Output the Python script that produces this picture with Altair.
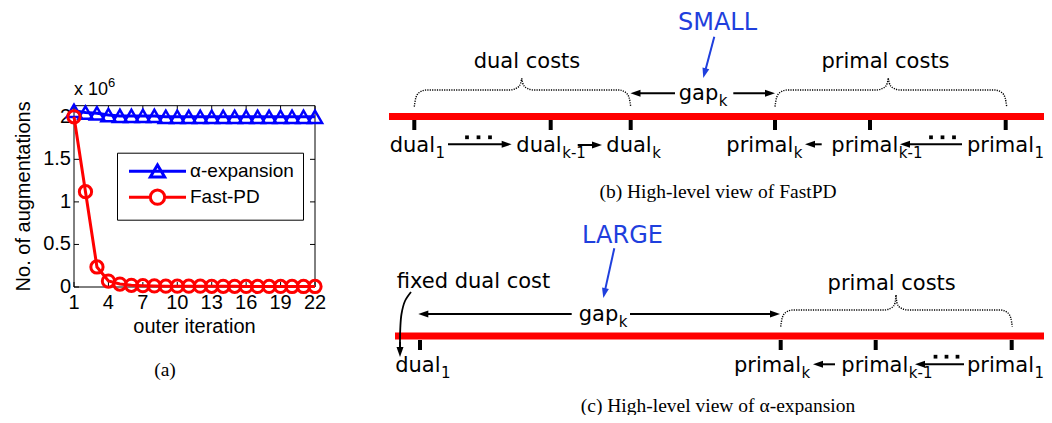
import math
import altair as alt
import pandas as pd

# ---------------- panel (a): augmentations per outer iteration (x 10^6) ----------------
iterations = list(range(1, 23))
alpha_expansion = [2.07, 2.05, 2.04, 2.02, 2.01, 2.01, 2.01, 2.01, 2.0, 2.0, 2.0,
                   2.0, 2.0, 2.0, 2.0, 2.0, 2.0, 2.0, 2.0, 2.0, 2.0, 2.0]
fast_pd = [2.0, 1.12, 0.235, 0.07, 0.035, 0.02, 0.015, 0.012, 0.01, 0.01, 0.009,
           0.009, 0.008, 0.008, 0.008, 0.007, 0.007, 0.007, 0.007, 0.006, 0.006, 0.006]
series_names = ["α-expansion", "Fast-PD"]
series_colors = ["#0000ff", "#ff0000"]
x_tick_values = [1, 4, 7, 10, 13, 16, 19, 22]
y_tick_values = [0, 0.5, 1, 1.5, 2]
y_max = 2.13
x_title = "outer iteration"
y_title = "No. of augmentations"

# ---------------- panels (b) and (c): schematic (page pixel coordinates) ----------------
bar_x0 = [389, 395]
bar_x1 = [1044, 1044]
bar_y = [116.5, 336]

tick_x = [414.3, 550.7, 630.7, 775, 870, 1005.7, 420, 780.7, 875.7, 1011.7]
tick_y0 = [120, 120, 120, 120, 120, 120, 340, 340, 340, 340]
tick_y1 = [130, 130, 130, 130, 130, 130, 350, 350, 350, 350]

brace_x0 = [414.3, 775, 780.7]
brace_x1 = [630.7, 1006.7, 1012.3]
brace_xm = [521.7, 888.3, 896]
brace_y_end = [106.7, 106.7, 326.7]
brace_y_line = [90, 90, 310]
brace_y_tip = [78.3, 78.3, 295]

blue_words = ["SMALL", "LARGE"]
blue_x = [717.5, 622.5]
blue_y = [30, 243.3]

black_words = ["dual costs", "primal costs", "primal costs"]
black_x = [527, 885.5, 891.7]
black_y = [68.3, 68.3, 290]
left_words = ["fixed dual cost"]
left_x = [396.7]
left_y = [288.3]

lab_base = ["gap", "dual", "dual", "dual", "primal", "primal", "primal",
            "gap", "dual", "primal", "primal", "primal"]
lab_sub = ["k", "1", "k-1", "k", "k", "k-1", "1",
           "k", "1", "k", "k-1", "1"]
lab_split = [718.3, 435, 561.7, 651.7, 793.3, 898.3, 1034,
             618.3, 440.5, 801, 908.3, 1034]
lab_y = [100, 151.7, 151.7, 151.7, 151.7, 151.7, 151.7,
         320.7, 371.7, 371.7, 371.7, 371.7]

arrow_tail_x = [714.3, 614.3, 675, 733.3, 448, 577.7, 821.7, 962, 571.7, 630, 835, 964, 400]
arrow_tail_y = [36.7, 248.3, 93.3, 93.3, 144.3, 145, 144.3, 144.3, 314, 314, 364.3, 364.3, 342]
arrow_tip_x = [703.3, 603.3, 630.5, 775, 511.7, 602, 805, 900, 418.3, 780, 813, 915, 400]
arrow_tip_y = [78, 298, 93.3, 93.3, 144.3, 145, 144.3, 144.3, 314, 314, 364.3, 364.3, 357]
arrow_blue = [True, True, False, False, False, False, False, False, False, False, False, False, False]

curve_x = [411, 405, 401.5, 400.3, 400, 400]
curve_y = [292, 301, 314, 328, 340, 348]

dots_x = [467, 478.5, 490, 931, 942.5, 954, 935.5, 946.5, 957.5]
dots_y = [137.3, 137.3, 137.3, 137.3, 137.3, 137.3, 356.7, 356.7, 356.7]

cap_text = ["(a)", "(b) High-level view of FastPD", "(c) High-level view of α-expansion"]
cap_x = [165, 718, 718]
cap_y = [376, 198, 412]

# ---------------- styling ----------------
MF = "Liberation Sans"
CF = "DejaVu Sans"
SF = "Liberation Serif"
RED = "#ff0000"
TXT_BLUE = "#1f3fdd"

# ================= panel (a) =================
xs = alt.Scale(domain=[1, 22], range=[66, 307], nice=False, zero=False)
ys = alt.Scale(domain=[0, y_max], range=[279, 97.7], nice=False, zero=False)

df_a = pd.DataFrame({"iter": iterations, "value": alpha_expansion})
df_f = pd.DataFrame({"iter": iterations, "value": fast_pd})
xq = alt.X("iter:Q", scale=xs, axis=None)
yq = alt.Y("value:Q", scale=ys, axis=None)


def XD(v):
    return alt.XDatum(v, scale=xs, axis=None)


def YD(v):
    return alt.YDatum(v, scale=ys, axis=None)


one = pd.DataFrame({"k": [0]})
frame = alt.Chart(one).mark_rect(filled=False, color="black", strokeWidth=1).encode(
    x=XD(1), x2=alt.X2Datum(22), y=YD(0), y2=alt.Y2Datum(y_max))

df_yt = pd.DataFrame({"value": y_tick_values})
df_xt = pd.DataFrame({"iter": x_tick_values})
tk = dict(color="black", thickness=1, size=5, opacity=1)
ytick_l = alt.Chart(df_yt).mark_tick(orient="horizontal", xOffset=2.5, **tk).encode(x=XD(1), y=yq)
ytick_r = alt.Chart(df_yt).mark_tick(orient="horizontal", xOffset=-2.5, **tk).encode(x=XD(22), y=yq)
xtick_b = alt.Chart(df_xt).mark_tick(orient="vertical", yOffset=-2.5, **tk).encode(x=xq, y=YD(0))
xtick_t = alt.Chart(df_xt).mark_tick(orient="vertical", yOffset=2.5, **tk).encode(x=xq, y=YD(y_max))

# tick labels and axis titles (drawn through the same scales)
ylab = alt.Chart(df_yt).mark_text(align="right", baseline="middle", font=MF, fontSize=20,
                                  color="black", dx=-3).encode(
    x=XD(1), y=yq, text=alt.Text("value:Q", format="~g"))
xlab = alt.Chart(df_xt).mark_text(align="center", baseline="middle", font=MF, fontSize=20,
                                  color="black", dy=16).encode(
    x=xq, y=YD(0), text=alt.Text("iter:Q", format="d"))
ytit = alt.Chart(one).mark_text(text=y_title, angle=270, align="center", baseline="middle",
                                font=MF, fontSize=20, color="black", dy=-50).encode(
    x=XD(1), y=YD(y_max / 2))
xtit = alt.Chart(one).mark_text(text=x_title, align="center", baseline="alphabetic",
                                font=MF, fontSize=20, color="black", dy=46).encode(
    x=XD(11.5), y=YD(0))

line_a = alt.Chart(df_a).mark_line(color=series_colors[0], strokeWidth=3).encode(x=xq, y=yq)
pts_a = alt.Chart(df_a).mark_point(shape="triangle-up", filled=False, color=series_colors[0],
                                   strokeWidth=2.5, size=200, opacity=1).encode(x=xq, y=yq)
line_f = alt.Chart(df_f).mark_line(color=series_colors[1], strokeWidth=3).encode(x=xq, y=yq)
pts_f = alt.Chart(df_f).mark_point(shape="circle", filled=False, color=series_colors[1],
                                   strokeWidth=3, size=150, opacity=1).encode(x=xq, y=yq)

exp_txt = alt.Chart(one).mark_text(text="x 10", align="left", baseline="alphabetic",
                                   font=MF, fontSize=18, dy=-10.7, color="black").encode(
    x=XD(1), y=YD(y_max))
exp_sup = alt.Chart(one).mark_text(text="6", align="left", baseline="alphabetic",
                                   font=MF, fontSize=13, dx=34, dy=-19, color="black").encode(
    x=XD(1), y=YD(y_max))

# legend built from a hidden (clipped) layer; custom symbols = line with marker
PATH_A = "M-1,0L7.77,0M2.285,0.9L4.485,0.9L3.385,-0.95Z"
PATH_F = ("M-1,0L2.285,0M4.485,0L7.77,0M4.485,0A1.1,1.1,0,1,1,2.285,0"
          "A1.1,1.1,0,1,1,4.485,0")
leg = alt.Legend(orient="none", legendX=109, legendY=144.7, title=None,
                 padding=9, strokeColor="black", fillColor="white", cornerRadius=0,
                 symbolSize=169, symbolStrokeWidth=3, labelFont=MF, labelFontSize=19,
                 labelColor="black", labelOffset=45, rowPadding=0, labelLimit=0)
df_leg = pd.DataFrame({"iter": [100, 100], "value": [1, 1], "series": series_names})
legend_layer = alt.Chart(df_leg).mark_point(filled=False, strokeWidth=3, opacity=1,
                                            size=169, clip=True).encode(
    x=xq, y=yq,
    color=alt.Color("series:N", scale=alt.Scale(domain=series_names, range=series_colors), legend=leg),
    shape=alt.Shape("series:N", scale=alt.Scale(domain=series_names, range=[PATH_A, PATH_F]), legend=leg))

panel_a = alt.layer(frame, ytick_l, ytick_r, xtick_b, xtick_t, ylab, xlab, ytit, xtit,
                    line_a, pts_a, line_f, pts_f, exp_txt, exp_sup, legend_layer)

# ================= panels (b), (c) =================
dxs = alt.Scale(domain=[8, 1044], range=[0, 1036], nice=False, zero=False)
dys = alt.Scale(domain=[8, 415], range=[0, 407], nice=False, zero=False)


def DX(f):
    return alt.X(f, type="quantitative", scale=dxs, axis=None)


def DY(f):
    return alt.Y(f, type="quantitative", scale=dys, axis=None)


df_bar = pd.DataFrame({"x0": bar_x0, "x1": bar_x1, "y": bar_y})
bars = alt.Chart(df_bar).mark_rule(color=RED, strokeWidth=7).encode(
    x=DX("x0"), x2="x1", y=DY("y"))

df_tick = pd.DataFrame({"x": tick_x, "y0": tick_y0, "y1": tick_y1})
ticks = alt.Chart(df_tick).mark_rule(color="black", strokeWidth=4).encode(
    x=DX("x"), y=DY("y0"), y2="y1")

rows = []
for b in range(len(brace_x0)):
    x0, x1, xm = brace_x0[b], brace_x1[b], brace_xm[b]
    yb, yl, yt = brace_y_end[b], brace_y_line[b], brace_y_tip[b]
    left = [(x0, yb), (x0 + 1.5, yl + 8), (x0 + 5, yl + 2.5), (x0 + 12, yl),
            (xm - 12, yl), (xm - 4, yl - 2.5), (xm - 1, yl - 7), (xm, yt)]
    right = [(x1, yb), (x1 - 1.5, yl + 8), (x1 - 5, yl + 2.5), (x1 - 12, yl),
             (xm + 12, yl), (xm + 4, yl - 2.5), (xm + 1, yl - 7), (xm, yt)]
    for i, (px, py) in enumerate(left):
        rows.append({"g": f"{b}L", "i": i, "x": px, "y": py})
    for i, (px, py) in enumerate(right):
        rows.append({"g": f"{b}R", "i": i, "x": px, "y": py})
df_br = pd.DataFrame(rows)
braces = alt.Chart(df_br).mark_line(color="black", strokeWidth=1.4, strokeDash=[1.2, 1.2],
                                    interpolate="monotone").encode(
    x=DX("x"), y=DY("y"), detail="g:N")


def arrow_frame(sel):
    recs = []
    for k in range(len(arrow_tail_x)):
        if arrow_blue[k] != sel:
            continue
        tx, ty, px, py = arrow_tail_x[k], arrow_tail_y[k], arrow_tip_x[k], arrow_tip_y[k]
        L = math.hypot(px - tx, py - ty)
        ux, uy = (px - tx) / L, (py - ty) / L
        hx, hy = px - 5 * ux, py - 5 * uy
        ang = (math.degrees(math.atan2(ux, -uy)) + 360) % 360
        recs.append({"x1": tx, "y1": ty, "hx": hx, "hy": hy, "ang": ang})
    return pd.DataFrame(recs)


HEAD = "M0,-1L0.7,1L-0.7,1Z"
arrow_layers = []
for sel, col in [(False, "black"), (True, TXT_BLUE)]:
    d = arrow_frame(sel)
    arrow_layers.append(alt.Chart(d).mark_rule(color=col, strokeWidth=2).encode(
        x=DX("x1"), y=DY("y1"), x2="hx", y2="hy"))
    arrow_layers.append(alt.Chart(d).mark_point(shape=HEAD, filled=True, color=col, size=100,
                                                opacity=1, strokeWidth=0).encode(
        x=DX("hx"), y=DY("hy"), angle=alt.Angle("ang:Q", scale=None)))

df_curve = pd.DataFrame({"x": curve_x, "y": curve_y, "i": list(range(len(curve_x)))})
curve = alt.Chart(df_curve).mark_line(color="black", strokeWidth=1.8,
                                      interpolate="catmull-rom").encode(
    x=DX("x"), y=DY("y"), order="i:Q")

df_dots = pd.DataFrame({"x": dots_x, "y": dots_y})
dots = alt.Chart(df_dots).mark_square(color="black", size=14, opacity=1).encode(
    x=DX("x"), y=DY("y"))

df_blue = pd.DataFrame({"t": blue_words, "x": blue_x, "y": blue_y})
blue_txt = alt.Chart(df_blue).mark_text(font=CF, fontSize=24, color=TXT_BLUE, align="center",
                                        baseline="alphabetic").encode(
    x=DX("x"), y=DY("y"), text="t:N")
df_black = pd.DataFrame({"t": black_words, "x": black_x, "y": black_y})
black_txt = alt.Chart(df_black).mark_text(font=CF, fontSize=21, color="black", align="center",
                                          baseline="alphabetic").encode(
    x=DX("x"), y=DY("y"), text="t:N")
df_left = pd.DataFrame({"t": left_words, "x": left_x, "y": left_y})
left_txt = alt.Chart(df_left).mark_text(font=CF, fontSize=21, color="black", align="left",
                                        baseline="alphabetic").encode(
    x=DX("x"), y=DY("y"), text="t:N")

df_lab = pd.DataFrame({"b": lab_base, "s": lab_sub, "x": lab_split, "y": lab_y})
lab_main = alt.Chart(df_lab).mark_text(font=CF, fontSize=21, color="black", align="right",
                                       baseline="alphabetic").encode(
    x=DX("x"), y=DY("y"), text="b:N")
lab_subs = alt.Chart(df_lab).mark_text(font=CF, fontSize=15, color="black", align="left",
                                       baseline="alphabetic", dy=6, dx=0.5).encode(
    x=DX("x"), y=DY("y"), text="s:N")

df_cap = pd.DataFrame({"t": cap_text, "x": cap_x, "y": cap_y})
caps = alt.Chart(df_cap).mark_text(font=SF, fontSize=19.5, color="black", align="center",
                                   baseline="alphabetic").encode(
    x=DX("x"), y=DY("y"), text="t:N")

diagram = alt.layer(braces, bars, ticks, *arrow_layers, curve, dots,
                    blue_txt, black_txt, left_txt, lab_main, lab_subs, caps)

chart = alt.layer(panel_a, diagram).resolve_scale(
    x="independent", y="independent", color="independent", shape="independent"
).properties(width=1036, height=407, padding=0, autosize="none",
             background="white").configure_view(stroke=None)

chart.save("out.html", embed_options={"renderer": "svg", "actions": False})
